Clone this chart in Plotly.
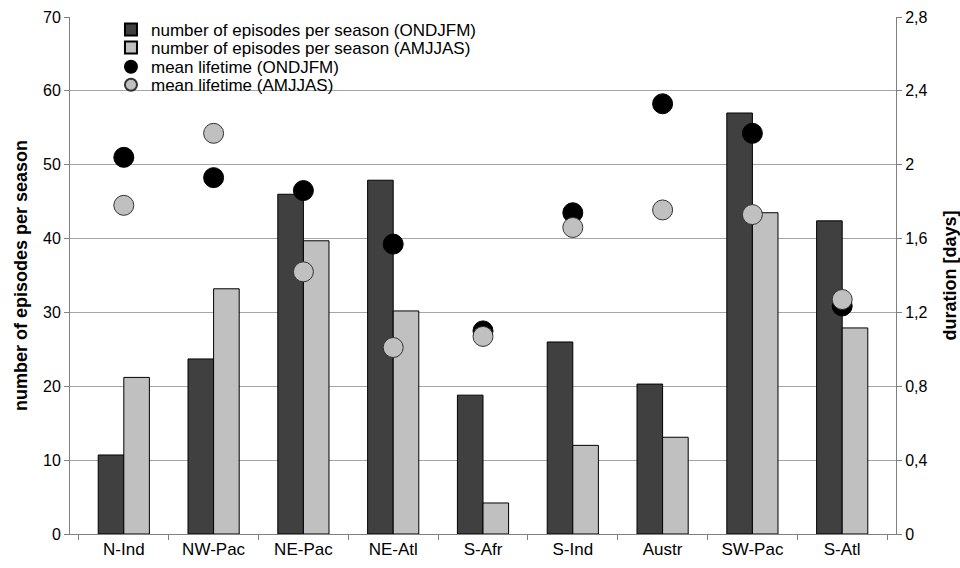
import plotly.graph_objects as go

# Ocean basins
regions = ["N-Ind", "NW-Pac", "NE-Pac", "NE-Atl", "S-Afr", "S-Ind", "Austr", "SW-Pac", "S-Atl"]

# Number of episodes per season
episodes_ondjfm = [10.7, 23.7, 46.0, 47.9, 18.8, 26.0, 20.3, 57.0, 42.4]
episodes_amjjas = [21.2, 33.2, 39.7, 30.2, 4.2, 12.0, 13.1, 43.5, 27.9]

# Mean lifetime in days
lifetime_ondjfm = [2.04, 1.93, 1.86, 1.57, 1.10, 1.74, 2.33, 2.17, 1.235]
lifetime_amjjas = [1.78, 2.17, 1.42, 1.01, 1.07, 1.66, 1.755, 1.73, 1.27]

left_ticks = [0, 10, 20, 30, 40, 50, 60, 70]
right_ticks = [0, 0.4, 0.8, 1.2, 1.6, 2.0, 2.4, 2.8]
right_labels = ["0", "0,4", "0,8", "1,2", "1,6", "2", "2,4", "2,8"]

DARK = "#404040"
LIGHT = "#c0c0c0"
GRID = "#a6a6a6"
AXIS = "#808080"
FAMILY = "Liberation Sans, Arial, sans-serif"

fig = go.Figure()
fig.add_trace(go.Bar(
    x=regions, y=episodes_ondjfm, name="number of episodes per season (ONDJFM)",
    marker=dict(color=DARK, line=dict(color="#000000", width=1)), legend="legend",
))
fig.add_trace(go.Bar(
    x=regions, y=episodes_amjjas, name="number of episodes per season (AMJJAS)",
    marker=dict(color=LIGHT, line=dict(color="#000000", width=1)), legend="legend2",
))
fig.add_trace(go.Scatter(
    x=regions, y=lifetime_ondjfm, name="mean lifetime (ONDJFM)", yaxis="y2",
    mode="markers", marker=dict(color="#000000", size=20, line=dict(color="#000000", width=1)),
    legend="legend3",
))
fig.add_trace(go.Scatter(
    x=regions, y=lifetime_amjjas, name="mean lifetime (AMJJAS)", yaxis="y2",
    mode="markers", marker=dict(color=LIGHT, size=20, line=dict(color="#333333", width=1)),
    legend="legend4",
))

# one legend per entry so the rows can sit close together
legend_rows = [0.975, 0.94, 0.903, 0.868]
legend_style = dict(
    x=0.0496, xanchor="left", yanchor="middle",
    bgcolor="rgba(255,255,255,0)", font=dict(family=FAMILY, size=17, color="#000000"),
    itemwidth=30, itemsizing="constant", borderwidth=0,
)

fig.update_layout(
    width=960, height=568,
    margin=dict(l=70, r=64, t=17, b=34, autoexpand=False),
    paper_bgcolor="white", plot_bgcolor="white",
    font=dict(family=FAMILY, size=16, color="#000000"),
    barmode="group", bargap=0.43, bargroupgap=0,
    showlegend=True,
    legend=dict(y=legend_rows[0], **legend_style),
    legend2=dict(y=legend_rows[1], **legend_style),
    legend3=dict(y=legend_rows[2], **legend_style),
    legend4=dict(y=legend_rows[3], **legend_style),
    xaxis=dict(
        showgrid=False, showline=True, linecolor=AXIS, linewidth=1,
        ticks="outside", ticklen=5, tickcolor=AXIS, automargin=False,
        tickson="boundaries", tickfont=dict(size=17),
    ),
    yaxis=dict(
        range=[0, 70], tickvals=left_ticks, showgrid=True, gridcolor=GRID, gridwidth=1,
        showline=True, linecolor=AXIS, linewidth=1, automargin=False,
        ticks="outside", ticklen=5, tickcolor=AXIS,
        title=dict(text="<b>number of episodes per season</b>", font=dict(size=18), standoff=10),
        zeroline=False,
    ),
    yaxis2=dict(
        range=[0, 2.8], tickvals=right_ticks, ticktext=right_labels,
        overlaying="y", side="right", showgrid=False,
        showline=True, linecolor=AXIS, linewidth=1, automargin=False,
        ticks="outside", ticklen=5, tickcolor=AXIS,
        title=dict(text="<b>duration [days]</b>", font=dict(size=18), standoff=16),
        zeroline=False,
    ),
)

fig.write_html("out.html")
